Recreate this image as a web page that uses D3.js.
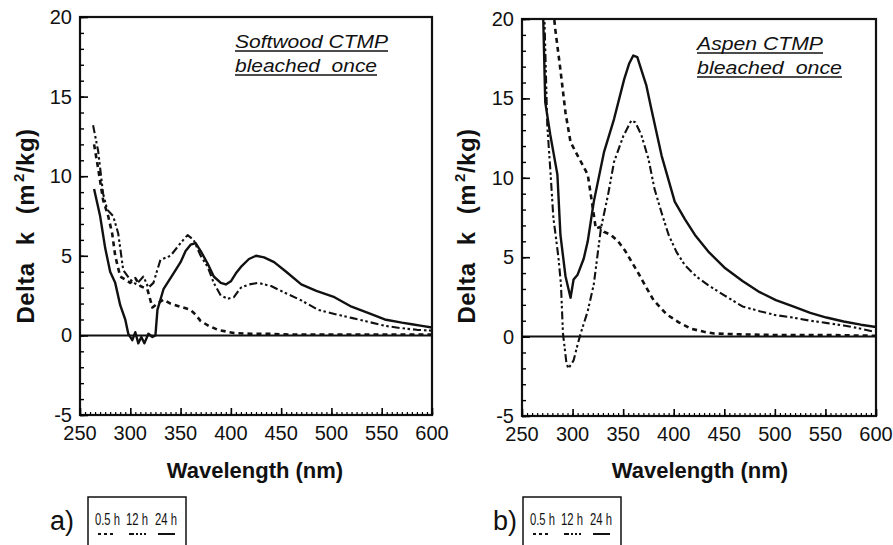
<!DOCTYPE html>
<html><head><meta charset="utf-8">
<script src="https://cdn.jsdelivr.net/npm/d3@7"></script>
<style>body{margin:0;background:#fff} svg{display:block} text{font-family:"Liberation Sans",Arial,Helvetica,sans-serif;fill:#111;white-space:pre}</style>
</head><body><svg id="c" width="893" height="545"></svg>
<script>
// ---------- data ----------
const xTicks = [250, 300, 350, 400, 450, 500, 550, 600];
const yTicks = [-5, 0, 5, 10, 15, 20];
const seriesNames = ["0.5 h", "12 h", "24 h"];
const panelTitles = [["Softwood CTMP", "bleached  once"], ["Aspen CTMP", "bleached  once"]];
const panelLetters = ["a)", "b)"];

// Softwood CTMP
const sw05X = [264, 268, 273, 278, 282, 285, 290, 295, 300, 305, 310, 317, 322, 327, 333, 340, 350, 360, 365, 370, 378, 387, 395, 403, 420, 437, 460, 500, 550, 600];
const sw05Y = [12.0, 10.5, 8.5, 7.5, 6.4, 5.0, 3.7, 3.5, 3.3, 3.6, 3.1, 2.9, 1.75, 2.0, 2.25, 2.0, 1.8, 1.6, 1.3, 0.9, 0.6, 0.35, 0.25, 0.15, 0.1, 0.1, 0.05, 0.05, 0.05, 0.05];
const sw12X = [263, 268, 273, 277, 283, 288, 293, 300, 306, 313, 318, 323, 330, 340, 350, 357, 363, 370, 377, 383, 390, 397, 403, 410, 418, 427, 440, 453, 470, 487, 503, 520, 537, 553, 570, 585, 600];
const sw12Y = [13.2, 11.6, 8.9, 7.9, 7.5, 6.4, 4.1, 3.5, 3.2, 3.7, 3.0, 3.3, 4.75, 5.0, 5.8, 6.3, 6.0, 5.0, 4.3, 3.3, 2.5, 2.3, 2.4, 3.0, 3.2, 3.3, 3.1, 2.7, 2.2, 1.6, 1.35, 1.1, 0.85, 0.6, 0.45, 0.35, 0.3];
const sw24X = [264, 270, 275, 280, 285, 290, 295, 298, 302, 305, 308, 311, 314, 318, 322, 325, 327, 333, 343, 350, 355, 360, 365, 370, 377, 383, 390, 395, 400, 405, 410, 418, 425, 433, 443, 455, 470, 485, 503, 520, 537, 553, 570, 580, 590, 600];
const sw24Y = [9.2, 7.5, 5.5, 4.0, 3.3, 1.9, 1.0, 0.1, -0.3, 0.2, -0.5, -0.1, -0.5, 0.1, -0.1, 0.0, 1.6, 2.9, 3.9, 4.6, 5.3, 5.7, 5.8, 5.3, 4.5, 3.7, 3.3, 3.2, 3.4, 3.9, 4.3, 4.8, 5.0, 4.9, 4.6, 4.0, 3.2, 2.8, 2.4, 1.8, 1.4, 1.0, 0.8, 0.7, 0.6, 0.5];

// Aspen CTMP
const as05X = [281, 283, 288, 293, 298, 305, 315, 320, 323, 327, 331, 338, 345, 352, 358, 365, 371, 380, 393, 405, 417, 430, 440, 460, 500, 550, 600];
const as05Y = [20.5, 19.3, 16.8, 14.1, 12.25, 11.4, 10.2, 8.1, 6.8, 6.9, 6.6, 6.4, 6.0, 5.4, 4.75, 4.0, 3.3, 2.3, 1.4, 0.9, 0.5, 0.3, 0.2, 0.15, 0.1, 0.1, 0.05];
const as12X = [272, 275, 278, 281, 286, 288.5, 290.5, 294, 296, 301, 305, 308, 315, 321, 325, 328, 335, 341, 350, 358, 362, 368, 375, 381, 388, 395, 403, 411, 422, 435, 450, 468, 485, 501, 518, 535, 552, 568, 585, 598];
const as12Y = [20.5, 13.3, 10.5, 7.5, 5.0, 3.3, 0.2, -1.7, -2.0, -1.5, -0.5, 0.2, 1.6, 3.3, 5.3, 6.8, 8.9, 11.0, 12.6, 13.6, 13.5, 12.7, 11.2, 9.3, 7.8, 6.4, 5.3, 4.5, 3.8, 3.2, 2.6, 1.9, 1.6, 1.35, 1.2, 1.0, 0.85, 0.7, 0.5, 0.3];
const as24X = [270, 271, 273, 278, 285, 288, 293, 298, 301, 305, 311, 315, 321, 331, 341, 351, 356, 360, 364, 368, 373, 378, 388, 401, 411, 421, 435, 451, 468, 485, 501, 518, 535, 551, 568, 585, 601];
const as24Y = [22, 20, 14.75, 12.7, 10.2, 6.4, 3.8, 2.45, 3.6, 3.9, 4.9, 6.0, 8.5, 11.6, 13.7, 16.2, 17.2, 17.7, 17.6, 16.8, 15.8, 14.3, 11.4, 8.5, 7.4, 6.4, 5.3, 4.3, 3.5, 2.8, 2.3, 1.9, 1.5, 1.2, 0.95, 0.75, 0.6];

// ---------- drawing ----------
const svg = d3.select("#c");
const styles = [
  {dash: "5,4", w: 2.6},
  {dash: "8,3,2.5,2.5,2.5,3", w: 2.1},
  {dash: null, w: 2.4}
];
const panels = [
  {left: 80, right: 432, top: 17, bottom: 415,
   series: [[sw05X, sw05Y], [sw12X, sw12Y], [sw24X, sw24Y]],
   title: panelTitles[0], titleX: 235, titleW: [153, 142], ylabX: 34, xlabC: 255,
   letter: panelLetters[0], letterX: 50, legX: 88},
  {left: 522, right: 876, top: 19, bottom: 416,
   series: [[as05X, as05Y], [as12X, as12Y], [as24X, as24Y]],
   title: panelTitles[1], titleX: 697, titleW: [126, 145], ylabX: 475, xlabC: 700,
   letter: panelLetters[1], letterX: 493, legX: 523}
];

panels.forEach((p, i) => {
  const x = d3.scaleLinear().domain([250, 600]).range([p.left, p.right]);
  const y = d3.scaleLinear().domain([-5, 20]).range([p.bottom, p.top]);
  const g = svg.append("g");
  const clipId = "clip" + i;
  svg.append("clipPath").attr("id", clipId).append("rect")
    .attr("x", p.left).attr("y", p.top).attr("width", p.right - p.left).attr("height", p.bottom - p.top);

  // zero line
  g.append("line").attr("x1", p.left).attr("x2", p.right).attr("y1", y(0)).attr("y2", y(0))
    .attr("stroke", "#111").attr("stroke-width", 2);

  // series
  const line = d3.line().x(d => x(d[0])).y(d => y(d[1])).curve(d3.curveLinear);
  p.series.forEach((s, k) => {
    const pts = s[0].map((v, j) => [v, s[1][j]]);
    g.append("path").attr("clip-path", `url(#${clipId})`).attr("d", line(pts))
      .attr("fill", "none").attr("stroke", "#111").attr("stroke-width", styles[k].w)
      .attr("stroke-dasharray", styles[k].dash).attr("stroke-linejoin", "round");
  });

  // frame
  g.append("rect").attr("x", p.left).attr("y", p.top).attr("width", p.right - p.left).attr("height", p.bottom - p.top)
    .attr("fill", "none").attr("stroke", "#111").attr("stroke-width", 2.2);

  // y ticks (inside)
  const yMinor = d3.range(-5, 21, 1);
  g.append("g").attr("transform", `translate(${p.left},0)`)
    .call(d3.axisRight(y).tickValues(yMinor).tickSize(4).tickFormat(""))
    .call(a => a.select(".domain").remove()).selectAll("line").attr("stroke-width", 1.4);
  g.append("g").attr("transform", `translate(${p.left},0)`)
    .call(d3.axisRight(y).tickValues(yTicks).tickSize(8).tickFormat(""))
    .call(a => a.select(".domain").remove()).selectAll("line").attr("stroke-width", 1.6);
  yTicks.forEach(t => {
    g.append("text").attr("x", p.left - 8).attr("y", y(t) + 7).attr("text-anchor", "end")
      .attr("font-size", 20).text(t);
  });

  // x ticks (inside, bottom)
  const xMinor = d3.range(250, 601, 5);
  g.append("g").attr("transform", `translate(0,${p.bottom})`)
    .call(d3.axisTop(x).tickValues(xMinor).tickSize(3).tickFormat(""))
    .call(a => a.select(".domain").remove()).selectAll("line").attr("stroke-width", 1.2);
  g.append("g").attr("transform", `translate(0,${p.bottom})`)
    .call(d3.axisTop(x).tickValues(xTicks).tickSize(7).tickFormat(""))
    .call(a => a.select(".domain").remove()).selectAll("line").attr("stroke-width", 1.6);
  xTicks.forEach(t => {
    g.append("text").attr("x", x(t)).attr("y", p.bottom + 25).attr("text-anchor", "middle")
      .attr("font-size", 20).text(t);
  });

  // axis labels
  g.append("text").attr("x", p.xlabC).attr("y", 478).attr("text-anchor", "middle")
    .attr("font-size", 22).attr("font-weight", "bold").text("Wavelength (nm)");
  const yl = g.append("text").attr("transform", `translate(${p.ylabX},226) rotate(-90)`)
    .attr("text-anchor", "middle").attr("font-size", 24).attr("font-weight", "bold")
    .attr("word-spacing", 10).attr("letter-spacing", 0.5);
  yl.append("tspan").text("Delta k (m");
  yl.append("tspan").attr("font-size", 15).attr("dx", 2).attr("dy", -10).text("2");
  yl.append("tspan").attr("dy", 10).text("/kg)");

  // title
  p.title.forEach((t, k) => {
    const by = 48 + k * 24 + (i === 1 ? 2 : 0);
    g.append("text").attr("x", p.titleX).attr("y", by).attr("font-size", 18).attr("font-style", "italic")
      .attr("textLength", p.titleW[k]).attr("lengthAdjust", "spacingAndGlyphs").text(t);
    g.append("line").attr("x1", p.titleX).attr("x2", p.titleX + p.titleW[k])
      .attr("y1", by + 3).attr("y2", by + 3).attr("stroke", "#111").attr("stroke-width", 1.3);
  });

  // legend
  g.append("text").attr("x", p.letterX).attr("y", 530).attr("font-size", 27).text(p.letter);
  const lx = p.legX, lw = 98;
  g.append("path").attr("d", `M${lx},545 V497 H${lx + lw} V545`).attr("fill", "none")
    .attr("stroke", "#111").attr("stroke-width", 1.5);
  const offs = [7, 38, 67];
  const lens = [25, 22, 22];
  seriesNames.forEach((n, k) => {
    g.append("text").attr("transform", `translate(${lx + offs[k]},525) scale(1,1.18)`)
      .attr("font-size", 14).attr("textLength", lens[k]).attr("lengthAdjust", "spacingAndGlyphs").text(n);
    g.append("line").attr("x1", lx + offs[k] + 3).attr("x2", lx + offs[k] + 20)
      .attr("y1", 534).attr("y2", 534).attr("stroke", "#111").attr("stroke-width", 2)
      .attr("stroke-dasharray", k === 0 ? "3,3" : k === 1 ? "5,2,2,2,2,2" : null);
  });
});
</script></body></html>
